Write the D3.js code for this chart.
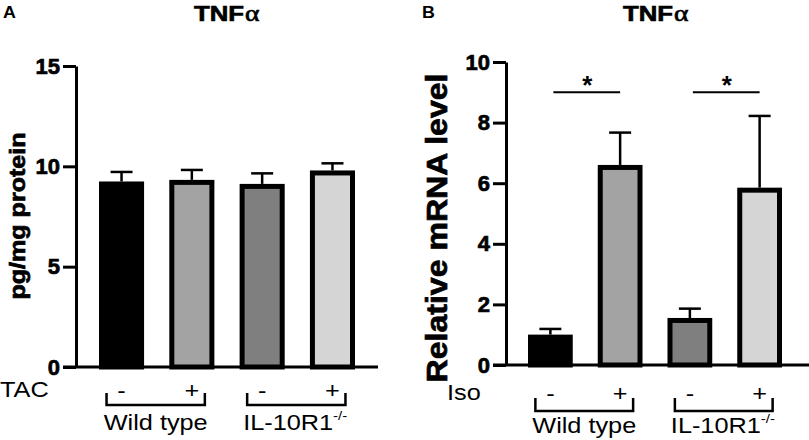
<!DOCTYPE html>
<html>
<head>
<meta charset="utf-8">
<script src="https://cdn.jsdelivr.net/npm/d3@7"></script>
<style>
  body { margin: 0; background: #fff; }
  svg { display: block; font-family: "Liberation Sans", Arial, sans-serif; }
  .heavy { stroke: #000; stroke-width: 0.7px; }
</style>
</head>
<body>
<svg width="809" height="440"></svg>
<script>
// shared categories
const groups = ["WT -", "WT +", "KO -", "KO +"];
const signs = ["-", "+", "-", "+"];
const genotypes = ["Wild type", "IL-10R1"];
const fills = ["#000000", "#a3a3a3", "#7f7f7f", "#d5d5d5"];

// panel A: TNFa protein, TAC
const proteinMean = [9.12, 9.2, 9.0, 9.67];
const proteinErr = [0.6, 0.62, 0.65, 0.48];
const proteinTicks = [0, 5, 10, 15];

// panel B: TNFa mRNA, Iso
const mrnaMean = [0.92, 6.52, 1.47, 5.77];
const mrnaErr = [0.27, 1.15, 0.39, 2.45];
const mrnaTicks = [0, 2, 4, 6, 8, 10];
const mrnaSig = [[0, 1, 9], [2, 3, 9]];

const svg = d3.select("svg");

// text with a little horizontal stretch, the original font is wider
function stext(g, x, y, str, size, weight, anchor, sx) {
  return g.append("text")
    .attr("transform", `translate(${x},${y}) scale(${sx},1)`)
    .attr("text-anchor", anchor)
    .attr("font-size", size)
    .attr("font-weight", weight)
    .text(str);
}

function panel(o) {
  const g = svg.append("g");
  const y = d3.scaleLinear().domain([0, o.max]).range([o.y0, o.yTop]);
  const x = d3.scaleBand().domain(groups).range(o.band).paddingInner(0.43).paddingOuter(0);
  const cx = (i) => x(groups[i]) + x.bandwidth() / 2;

  // y axis
  const ax = g.append("g")
    .attr("transform", `translate(${o.ax},0)`)
    .call(d3.axisLeft(y).tickValues(o.ticks).tickSize(13).tickSizeOuter(0).tickPadding(3));
  ax.selectAll("path, line").attr("stroke", "#000").attr("stroke-width", 3);
  ax.selectAll("text").attr("font-size", 22).attr("font-weight", "bold")
    .attr("class", "heavy")
    .attr("font-family", "Liberation Sans, Arial, sans-serif").attr("fill", "#000");

  // bars
  g.selectAll("rect.bar").data(o.mean).join("rect")
    .attr("class", "bar")
    .attr("x", (d, i) => x(groups[i]))
    .attr("y", (d) => y(d))
    .attr("width", x.bandwidth())
    .attr("height", (d) => o.y0 - y(d))
    .attr("fill", (d, i) => fills[i])
    .attr("stroke", "#000")
    .attr("stroke-width", 5);

  // error bars (upper only)
  const eb = g.selectAll("g.err").data(o.mean).join("g").attr("class", "err")
    .attr("stroke", "#000").attr("stroke-width", 2.5);
  eb.append("line")
    .attr("x1", (d, i) => cx(i)).attr("x2", (d, i) => cx(i))
    .attr("y1", (d) => y(d) - 2.5)
    .attr("y2", (d, i) => y(d + o.err[i]));
  eb.append("line")
    .attr("x1", (d, i) => cx(i) - 11).attr("x2", (d, i) => cx(i) + 11)
    .attr("y1", (d, i) => y(d + o.err[i]))
    .attr("y2", (d, i) => y(d + o.err[i]));

  // x axis line
  g.append("line")
    .attr("x1", o.ax - 13).attr("x2", o.x1)
    .attr("y1", o.y0).attr("y2", o.y0)
    .attr("stroke", "#000").attr("stroke-width", 3);

  // significance
  (o.sig || []).forEach(([a, b, v]) => {
    g.append("line")
      .attr("x1", cx(a) + 3).attr("x2", cx(b))
      .attr("y1", y(v)).attr("y2", y(v))
      .attr("stroke", "#000").attr("stroke-width", 2);
    g.append("text")
      .attr("x", (cx(a) + cx(b)) / 2 + 2).attr("y", y(v) + 2)
      .attr("text-anchor", "middle").attr("font-size", 26).attr("font-weight", "bold")
      .text("*");
  });

  // titles: "TNF" ends where the alpha starts
  stext(g, o.titleEnd, 21, "TNF", 23, "bold", "end", 1.12).attr("class", "heavy");
  g.append("text")
    .attr("transform", `translate(${o.titleEnd + 1},21) scale(1.15,1)`)
    .attr("font-family", "Liberation Serif, Times New Roman, serif")
    .attr("class", "heavy")
    .attr("font-size", 24).text("α");
  stext(g, o.letterX, 18, o.letter, 17, "bold", "start", 1.05);

  // y label
  g.append("text")
    .attr("transform", `translate(${o.ylab[0]},${o.ylab[1]}) rotate(-90) scale(${o.ylab[3]},1)`)
    .attr("text-anchor", "middle")
    .attr("class", "heavy")
    .attr("font-size", o.ylab[2]).attr("font-weight", "bold")
    .text(o.ylabel);

  // treatment row
  stext(g, o.treatX, o.treatY, o.treat, 22, "normal", "start", 1.15);
  signs.forEach((s, i) => {
    stext(g, cx(i), o.treatY + 1, s, 22, "normal", "middle", 1.15);
  });

  // brackets + genotype labels
  [[0, 1], [2, 3]].forEach(([a, b], k) => {
    const l = cx(a) - 15, r = cx(b) + 13;
    g.append("path")
      .attr("d", `M${l},${o.brTop}V${o.brBot}H${r}V${o.brTop}`)
      .attr("fill", "none").attr("stroke", "#000").attr("stroke-width", 2.5);
    if (k === 0) {
      stext(g, (l + r) / 2, o.genoY, genotypes[0], 22, "normal", "middle", 1.15);
    } else {
      const t = stext(g, l - 4, o.genoY, genotypes[1], 22, "normal", "start", 1.15);
      t.append("tspan").attr("font-size", 13).attr("dy", -10).text("-/-");
    }
  });
}

panel({
  mean: proteinMean, err: proteinErr, ticks: proteinTicks, max: 15,
  ax: 76, x1: 378, y0: 367, yTop: 66, band: [101.5, 352.5],
  titleEnd: 244, letter: "A", letterX: 3,
  ylabel: "pg/mg protein", ylab: [25, 216, 22, 1.14],
  treat: "TAC", treatX: 0, treatY: 397, brTop: 393, brBot: 405, genoY: 430
});

panel({
  mean: mrnaMean, err: mrnaErr, ticks: mrnaTicks, max: 10, sig: mrnaSig,
  ax: 506, x1: 809, y0: 365, yTop: 62, band: [530.5, 779.5],
  titleEnd: 673, letter: "B", letterX: 422,
  ylabel: "Relative mRNA level", ylab: [447, 228, 30, 1.07],
  treat: "Iso", treatX: 447, treatY: 400, brTop: 398, brBot: 411, genoY: 433
});
</script>
</body>
</html>
